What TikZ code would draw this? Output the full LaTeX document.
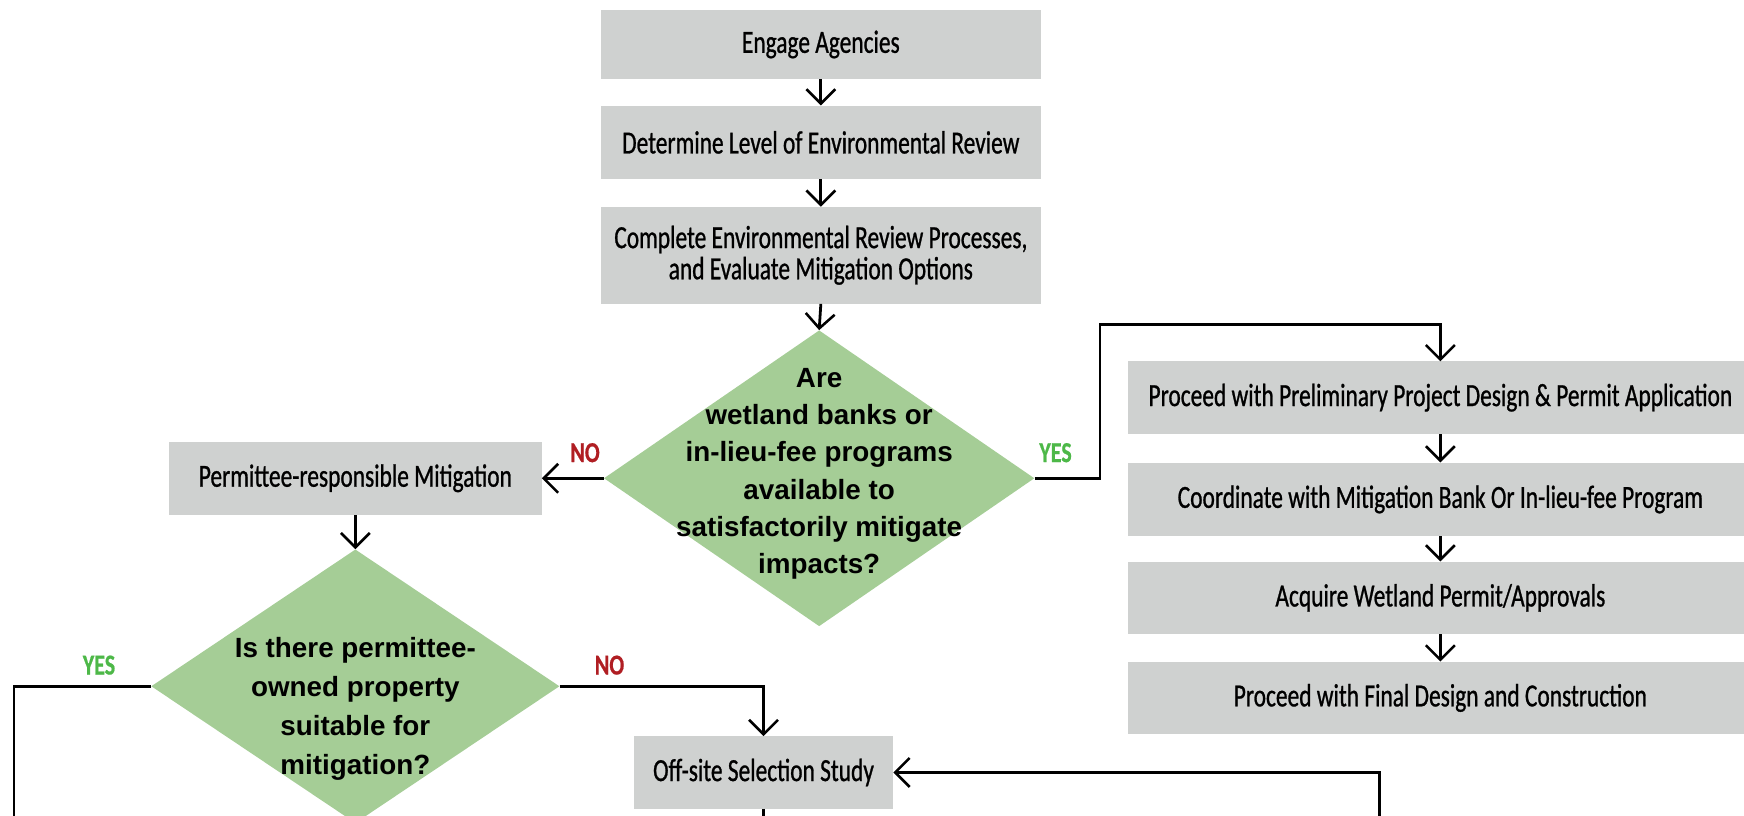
\documentclass[tikz,border=0pt]{standalone}
\usepackage{fontspec}
\setmainfont{Liberation Sans}
\newfontfamily\condfont[FakeStretch=0.726,FakeBold=0.8]{Carlito}
\newfontfamily\labfont[FakeStretch=0.76,FakeBold=0.6]{Carlito}
\usetikzlibrary{shapes.geometric,arrows.meta,calc}
\definecolor{boxgray}{RGB}{207,209,208}
\definecolor{dgreen}{RGB}{165,205,150}
\definecolor{nored}{RGB}{176,30,35}
\definecolor{yesgreen}{RGB}{77,184,72}
\begin{document}
\begin{tikzpicture}[x=1pt,y=-1pt,
  proc/.style={fill=boxgray, draw=none, inner sep=0pt, align=center,
    font=\condfont\fontsize{29}{28}\selectfont},
  dia/.style={diamond, fill=dgreen, draw=none, inner sep=0pt},
  qtext/.style={align=center, inner sep=0pt,
    font=\bfseries\fontsize{25}{33.5}\selectfont},
  conn/.style={line width=2.5pt, draw=black},
  arr/.style={conn, -{Straight Barb[length=13pt,width=26pt,line width=2.3pt]}},
  nolab/.style={text=nored, inner sep=0pt, font=\labfont\bfseries\fontsize{26}{26}\selectfont},
  yeslab/.style={text=yesgreen, inner sep=0pt, font=\labfont\bfseries\fontsize{26}{26}\selectfont}]
\useasboundingbox (0,0) rectangle (1568,733);
\clip (0,0) rectangle (1568,733);

% central column
\node[proc, minimum width=396pt, minimum height=62pt] (engage) at (738,40) {Engage Agencies};
\node[proc, minimum width=396pt, minimum height=66pt] (level) at (738,128) {Determine Level of Environmental Review};
\node[proc, minimum width=396pt, minimum height=87pt] (complete) at (738,229.5) {Complete Environmental Review Processes,\\and Evaluate Mitigation Options};
\node[dia, minimum width=387pt, minimum height=266pt] (q1) at (736.5,430) {};
\node[qtext] (q1t) at (736.5,426) {Are\\wetland banks or\\in-lieu-fee programs\\available to\\satisfactorily mitigate\\impacts?};

% left branch
\node[proc, minimum width=335pt, minimum height=66pt] (prm) at (319.5,430) {Permittee-responsible Mitigation};
\node[dia, minimum width=367pt, minimum height=246pt] (q2) at (319.5,617) {};
\node[qtext, font=\bfseries\fontsize{25}{35}\selectfont] (q2t) at (319.5,637) {Is there permittee-\\owned property\\suitable for\\mitigation?};
\node[proc, minimum width=233pt, minimum height=65pt] (offsite) at (686.5,694.5) {Off-site Selection Study};

% right column
\node[proc, minimum width=562pt, minimum height=65pt] (prelim) at (1295,357.5) {Proceed with Preliminary Project Design \& Permit Application};
\node[proc, minimum width=562pt, minimum height=66pt] (coord) at (1295,449) {Coordinate with Mitigation Bank Or In-lieu-fee Program};
\node[proc, minimum width=562pt, minimum height=65pt] (acquire) at (1295,537.5) {Acquire Wetland Permit/Approvals};
\node[proc, minimum width=562pt, minimum height=65pt] (final) at (1295,627.5) {Proceed with Final Design and Construction};

% labels
\node[nolab] (no1) at (526,407) {NO};
\node[yeslab] (yes1) at (949,407) {YES};
\node[yeslab] (yes2) at (89,598) {YES};
\node[nolab] (no2) at (548,598) {NO};

% free ends
\coordinate (yturn) at (989,292);
\coordinate (ybot) at (12.5,745);
\coordinate (rbot) at (1240,745);
\coordinate (obot) at (686.5,745);

% connectors
\draw[arr] (engage.south) -- (level.north);
\draw[arr] (level.south) -- (complete.north);
\draw[arr] (complete.south) -- (q1.north);
\draw[arr] (q1.west) -- (prm.east);
\draw[arr] (prm.south) -- (q2.north);
\draw[arr] (q2.east) -| (offsite.north);
\draw[conn] (q2.west) -| (ybot);
\draw[arr] (q1.east) -| (yturn) -| (prelim.north);
\draw[arr] (prelim.south) -- (coord.north);
\draw[arr] (coord.south) -- (acquire.north);
\draw[arr] (acquire.south) -- (final.north);
\draw[arr] (rbot) |- (offsite.east);
\draw[conn] (offsite.south) -- (obot);
\end{tikzpicture}
\end{document}
